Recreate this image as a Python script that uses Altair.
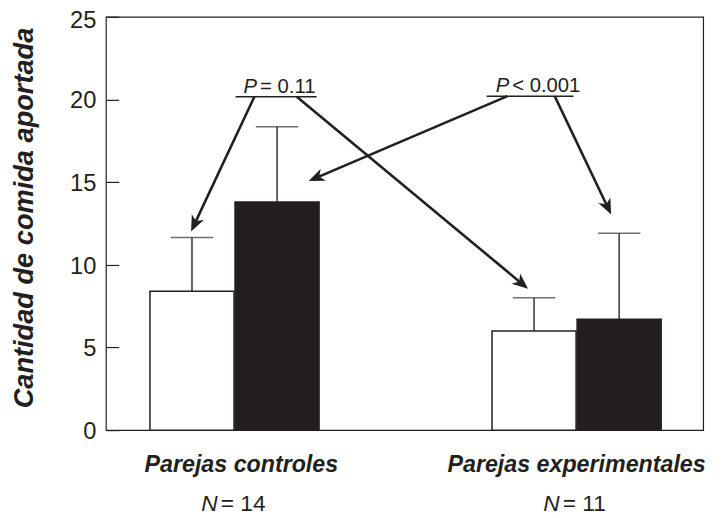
import math
import altair as alt
import pandas as pd

# ---- data ----
groups = ["Parejas controles", "Parejas experimentales"]
n_labels = ["= 14", "= 11"]
series = ["blanca", "negra"]
mean_white = [8.4, 6.0]
mean_black = [13.8, 6.7]
upper_white = [11.65, 8.0]
upper_black = [18.35, 11.9]
p_texts = ["= 0.11", "< 0.001"]

# ---- layout (data units on a group-index axis) ----
W, H = 604, 418
X_MIN, X_MAX = 0.624, 2.370
Y_MAX = 25
BAR_W = 0.2457
GAP = 0.003
PX_X = W / (X_MAX - X_MIN)
PX_Y = H / Y_MAX
INK = "#231f20"

rows = []
for i, g in enumerate(groups):
    gx = i + 1
    for j, s in enumerate(series):
        if j == 0:
            x0, x1 = gx - GAP / 2 - BAR_W, gx - GAP / 2
            m, u = mean_white[i], upper_white[i]
        else:
            x0, x1 = gx + GAP / 2, gx + GAP / 2 + BAR_W
            m, u = mean_black[i], upper_black[i]
        rows.append(dict(group=g, serie=s, x0=x0, x1=x1, xc=(x0 + x1) / 2, mean=m, upper=u))
bars = pd.DataFrame(rows)

xs = alt.Scale(domain=[X_MIN, X_MAX])
ys = alt.Scale(domain=[0, Y_MAX])

bar_layer = alt.Chart(bars).mark_rect(stroke=INK, strokeWidth=1.5).encode(
    x=alt.X("x0:Q", scale=xs, axis=None),
    x2="x1:Q",
    y=alt.Y("mean:Q", scale=ys,
            axis=alt.Axis(values=[0, 5, 10, 15, 20, 25], tickSize=13, offset=-13, domain=False,
                          grid=False, labelPadding=10, labelFontSize=24, labelFont="Liberation Sans",
                          labelOffset={"condition": {"test": "datum.value == 25", "value": 3.5}, "value": 1.5},
                          labelColor=INK, tickColor=INK, tickWidth=1.2,
                          title="Cantidad de comida aportada", titleFont="Liberation Sans",
                          titleFontSize=27.5, titleFontStyle="italic", titleFontWeight="bold",
                          titleColor=INK, titlePadding=32, titleY=203)),
    y2=alt.datum(0),
    fill=alt.Fill("serie:N", scale=alt.Scale(domain=series, range=["white", INK]), legend=None),
)

err_line = alt.Chart(bars).mark_rule(color="#333333", strokeWidth=1.5).encode(
    x=alt.X("xc:Q", scale=xs), y=alt.Y("mean:Q", scale=ys), y2="upper:Q")
err_cap = alt.Chart(bars).mark_tick(orient="horizontal", size=43, thickness=1.5, color="#333333").encode(
    x=alt.X("xc:Q", scale=xs), y=alt.Y("upper:Q", scale=ys))

# ---- P-value annotations ----
p_df = pd.DataFrame(dict(
    txt=p_texts,
    lx0=[1.003, 1.737], lx1=[1.240, 1.991], ly=[20.16, 20.2],
    split=[1.069, 1.806],
))
p_line = alt.Chart(p_df).mark_rule(color=INK, strokeWidth=1.5).encode(
    x=alt.X("lx0:Q", scale=xs), x2="lx1:Q", y=alt.Y("ly:Q", scale=ys))
p_italic = alt.Chart(p_df).mark_text(text="P", font="Liberation Sans", fontSize=20.5, fontStyle="italic",
                                     align="right", baseline="alphabetic", dy=-4, dx=-1, color=INK).encode(
    x=alt.X("split:Q", scale=xs), y=alt.Y("ly:Q", scale=ys))
p_rest = alt.Chart(p_df).mark_text(font="Liberation Sans", fontSize=20.5, align="left",
                                   baseline="alphabetic", dy=-4, dx=2, color=INK).encode(
    x=alt.X("split:Q", scale=xs), y=alt.Y("ly:Q", scale=ys), text="txt:N")

# ---- arrows: start at the P lines, end next to bars ----
arrows_start_x = [1.058, 1.182, 1.798, 1.936]
arrows_start_y = [20.16, 20.16, 20.2, 20.2]
arrows_end_x = [0.873, 1.858, 1.217, 2.101]
arrows_end_y = [12.02, 8.55, 15.07, 13.04]
HEAD = 16
arow = []
for x0, y0, x1, y1 in zip(arrows_start_x, arrows_start_y, arrows_end_x, arrows_end_y):
    dx = (x1 - x0) * PX_X
    dy = -(y1 - y0) * PX_Y
    L = math.hypot(dx, dy)
    ux, uy = dx / L, dy / L
    ang = math.degrees(math.atan2(ux, -uy)) % 360
    ex = x1 - ux * (HEAD * 0.7) / PX_X
    ey = y1 + uy * (HEAD * 0.7) / PX_Y
    arow.append(dict(x0=x0, y0=y0, ex=ex, ey=ey, tx=x1, ty=y1, ang=ang))
arr = pd.DataFrame(arow)
arr_line = alt.Chart(arr).mark_rule(color=INK, strokeWidth=2.6).encode(
    x=alt.X("x0:Q", scale=xs), y=alt.Y("y0:Q", scale=ys), x2="ex:Q", y2="ey:Q")
arr_head = alt.Chart(arr).mark_point(shape="M0,0L0.42,1L0,0.72L-0.42,1Z", filled=True, size=(2 * HEAD) ** 2,
                                     color=INK, opacity=1, strokeWidth=0).encode(
    x=alt.X("tx:Q", scale=xs), y=alt.Y("ty:Q", scale=ys), angle=alt.Angle("ang:Q", scale=None))

# ---- group labels below the plot ----
lab = pd.DataFrame(dict(group=groups, n=n_labels, gx=[1, 2], lx=[1.02, 2.0]))
g_text = alt.Chart(lab).mark_text(font="Liberation Sans", fontSize=23.5, fontStyle="italic", fontWeight="bold",
                                  baseline="alphabetic", color=INK).encode(
    x=alt.X("lx:Q", scale=xs), y=alt.value(460), text="group:N")
n_it = alt.Chart(lab).mark_text(text="N", font="Liberation Sans", fontSize=23, fontStyle="italic",
                                align="right", baseline="alphabetic", dx=-17, color=INK).encode(
    x=alt.X("gx:Q", scale=xs), y=alt.value(500))
n_rest = alt.Chart(lab).mark_text(font="Liberation Sans", fontSize=23, align="left",
                                  baseline="alphabetic", dx=-14, color=INK).encode(
    x=alt.X("gx:Q", scale=xs), y=alt.value(500), text="n:N")

chart = alt.layer(bar_layer, err_line, err_cap, p_line, p_italic, p_rest, arr_line, arr_head,
                  g_text, n_it, n_rest).properties(
    width=W, height=H,
    padding={"left": 99, "top": 6, "right": 15, "bottom": 86},
    autosize=alt.AutoSizeParams(type="none"),
).configure_view(stroke=INK, strokeWidth=1.2)

chart.save("out.html", embed_options={"renderer": "svg", "actions": False})
